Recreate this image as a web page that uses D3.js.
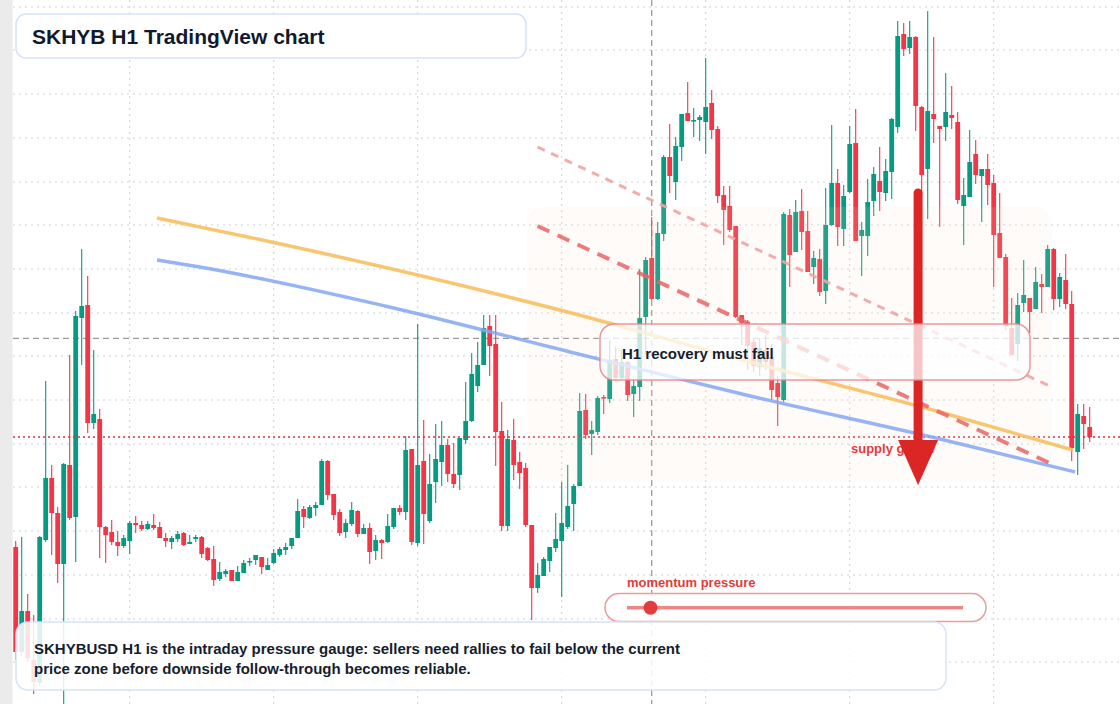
<!DOCTYPE html>
<html>
<head>
<meta charset="utf-8">
<script src="https://cdn.jsdelivr.net/npm/d3@7"></script>
<style>
  html, body { margin: 0; padding: 0; background: #fff; }
  svg { display: block; font-family: "Liberation Sans", Arial, sans-serif; }
</style>
</head>
<body>
<div id="chart"></div>
<script>
// H1 candles, oldest first (price units)
let open = [253,148,189,140,117,260,322,287,236,335,283,482,495,377,381,273,268,258,254,259,
  277,275,271,275,273,262,258,261,267,256,261,263,252,241,221,226,230,219,227,238,
  240,243,230,237,245,250,254,262,291,282,292,295,339,306,288,268,276,289,266,272,
  249,260,258,273,292,288,351,257,339,279,318,338,355,326,325,360,379,414,435,474,
  456,369,274,360,338,332,275,212,224,239,252,259,273,296,314,390,366,368,403,401,
  441,422,438,406,413,483,542,501,566,643,618,653,687,679,680,678,697,671,605,594,
  574,485,478,458,433,450,443,417,400,585,548,589,569,533,541,509,575,617,571,608,
  657,564,564,599,619,607,628,673,766,752,763,693,631,686,674,673,685,678,594,603,
  646,624,631,617,567,543,472,456,497,502,491,516,513,551,501,520,496,348,384,373]
let high = [259,263,206,185,264,419,335,293,337,445,489,551,524,450,391,274,280,269,265,279,
  284,279,279,286,278,267,264,269,268,265,265,264,253,254,238,231,230,234,240,242,
  245,243,242,251,253,257,262,301,294,295,298,341,340,306,291,281,298,290,276,277,
  265,261,286,292,295,364,351,476,380,346,376,379,361,357,362,418,447,458,485,485,
  485,398,370,381,348,337,275,237,243,253,287,318,335,316,407,406,379,404,405,460,
  453,450,439,421,531,543,583,578,645,676,663,686,718,692,685,742,710,674,614,614,
  574,485,480,462,462,465,456,424,588,591,600,611,589,549,551,612,675,631,615,674,
  691,578,621,633,653,641,682,779,777,779,764,694,789,763,674,727,714,688,622,670,
  660,631,646,625,607,546,502,507,540,502,533,526,555,552,527,546,509,396,396,393]
let low = [140,144,138,106,114,258,245,217,96,280,238,435,367,371,242,237,255,244,252,246,
  267,269,270,270,262,253,251,258,254,256,258,242,239,214,219,223,219,219,227,234,
  235,226,230,236,243,245,251,262,272,281,284,295,300,280,264,262,274,263,266,236,
  240,241,257,271,285,280,255,254,256,277,297,314,318,312,310,356,378,408,435,424,
  334,269,269,320,311,273,180,207,224,228,248,203,271,269,314,361,345,365,386,397,
  420,421,399,383,399,445,500,500,559,607,600,639,679,663,659,646,661,597,555,568,
  482,455,430,428,424,430,400,374,398,513,548,550,528,516,504,496,574,554,554,607,
  559,524,544,584,589,599,601,667,744,746,669,605,581,657,573,659,671,596,555,603,
  616,578,595,513,542,470,444,439,488,467,491,487,513,490,493,491,339,325,351,358]
let close = [148,189,142,118,263,322,287,236,336,282,484,494,377,386,273,265,258,254,262,277,
  275,271,276,272,262,259,262,266,255,258,263,246,240,220,228,229,219,228,237,239,
  245,233,235,247,251,253,262,289,283,293,295,339,305,285,267,277,290,266,272,248,
  260,257,274,292,288,350,258,335,286,316,341,355,326,316,362,379,426,435,472,454,
  368,274,361,335,327,275,212,225,241,253,261,277,294,314,389,365,370,402,402,440,
  422,438,405,414,482,540,501,567,643,624,654,686,679,680,683,693,670,604,590,570,
  483,477,454,434,452,438,410,403,586,545,588,568,528,542,508,575,617,573,604,656,
  559,570,598,626,608,629,681,764,751,763,694,625,689,681,671,688,682,600,605,638,
  625,631,615,565,542,474,445,495,505,488,518,513,551,501,523,496,352,386,376,363]

// grid positions (candle index / price)
let gridIdx = [19, 43, 67, 91, 115, 139, 163]
let gridPrice = [793, 750, 706, 662, 618, 575, 531, 487, 444, 400, 356, 313, 269, 225, 181, 138, 94]

// drawn studies: [candle index, price]
let orangeCurve = [[23.55, 582], [41.1, 560], [90.7, 490], [122.4, 438], [154.05, 388], [176.2, 350]]
let blueCurve = [[23.55, 540], [30.7, 533], [61.55, 494], [92.4, 448], [122.4, 404], [154.05, 361], [176.55, 328]]
let upperDash = [[86.97, 653], [172.67, 413]]
let lowerDash = [[86.97, 574], [172.67, 336]]
let zoneIdx = [85.2, 172.7], zonePrice = [318, 593]
let crossIdx = 106, crossPrice = 461.7
let arrowIdx = 150.4, arrowFrom = 607, arrowTo = 315
let momentum = 0.07

let width = 1120, height = 704

let svg = d3.select('#chart')
  .append('svg')
  .attr('width', width)
  .attr('height', height)

let x = d3.scaleLinear().domain([0, 179]).range([15.7, 1089.7])
let y = d3.scaleLinear().domain([0, 800]).range([800, 0])

svg.append('rect').attr('width', width).attr('height', height).attr('fill', '#fff')
svg.append('rect').attr('width', 12.5).attr('height', height).attr('fill', '#ebebeb')

// 网格
let grid = svg.append('g')
  .attr('stroke', '#cdd1d6')
  .attr('stroke-width', 1)
  .attr('stroke-dasharray', '2,4')
grid.selectAll('.gh').data(gridPrice).enter().append('line')
  .attr('x1', 13).attr('x2', width)
  .attr('y1', d => y(d)).attr('y2', d => y(d))
grid.selectAll('.gv').data(gridIdx).enter().append('line')
  .attr('x1', d => x(d)).attr('x2', d => x(d))
  .attr('y1', 0).attr('y2', height)

// crosshair
svg.append('line')
  .attr('x1', 13).attr('x2', width)
  .attr('y1', y(crossPrice)).attr('y2', y(crossPrice))
  .attr('stroke', '#9b9b9b').attr('stroke-width', 1.3).attr('stroke-dasharray', '6,4')
svg.append('line')
  .attr('x1', x(crossIdx)).attr('x2', x(crossIdx))
  .attr('y1', 0).attr('y2', height)
  .attr('stroke', '#9b9b9b').attr('stroke-width', 1.3).attr('stroke-dasharray', '6,4')

// candles
let candles = d3.range(open.length).map(i => ({ i: i, o: open[i], h: high[i], l: low[i], c: close[i] }))
let color = d => d.c >= d.o ? '#089981' : '#f23645'

let cg = svg.append('g')
cg.selectAll('line').data(candles).enter().append('line')
  .attr('x1', d => x(d.i)).attr('x2', d => x(d.i))
  .attr('y1', d => y(d.h)).attr('y2', d => y(d.l))
  .attr('stroke', color).attr('stroke-width', 1.1)
cg.selectAll('rect').data(candles).enter().append('rect')
  .attr('x', d => x(d.i) - 2.4)
  .attr('y', d => y(Math.max(d.o, d.c)))
  .attr('width', 4.8)
  .attr('height', d => Math.max(1.6, Math.abs(y(d.o) - y(d.c))))
  .attr('fill', color)

// last price line
svg.append('line')
  .attr('x1', 13).attr('x2', width)
  .attr('y1', y(close[close.length - 1])).attr('y2', y(close[close.length - 1]))
  .attr('stroke', '#d8333b').attr('stroke-width', 1.3).attr('stroke-dasharray', '2,3')

// zone
svg.append('rect')
  .attr('x', x(zoneIdx[0])).attr('y', y(zonePrice[1]))
  .attr('width', x(zoneIdx[1]) - x(zoneIdx[0]))
  .attr('height', y(zonePrice[0]) - y(zonePrice[1]))
  .attr('rx', 16)
  .attr('fill', 'rgb(245,222,205)').attr('fill-opacity', 0.12)

let line = d3.line().x(d => x(d[0])).y(d => y(d[1])).curve(d3.curveMonotoneX)

svg.append('path').attr('d', line(orangeCurve))
  .attr('fill', 'none').attr('stroke', '#f8bf5e').attr('stroke-opacity', 0.9).attr('stroke-width', 3.5)
svg.append('path').attr('d', line(blueCurve))
  .attr('fill', 'none').attr('stroke', '#84a6f4').attr('stroke-opacity', 0.85).attr('stroke-width', 3.4)
svg.append('path').attr('d', line(upperDash))
  .attr('fill', 'none').attr('stroke', '#f1a3a3').attr('stroke-opacity', 0.9)
  .attr('stroke-width', 3).attr('stroke-dasharray', '8,7')
svg.append('path').attr('d', line(lowerDash))
  .attr('fill', 'none').attr('stroke', '#e76565').attr('stroke-opacity', 0.85)
  .attr('stroke-width', 4).attr('stroke-dasharray', '13,9')

// label + arrow
svg.append('text')
  .attr('x', 851).attr('y', 453)
  .attr('font-size', 13).attr('font-weight', 'bold')
  .attr('fill', '#e23b3b')
  .text('supply gauge')

let ax = x(arrowIdx), headH = 45, headW = 40
svg.append('line')
  .attr('x1', ax).attr('x2', ax)
  .attr('y1', y(arrowFrom)).attr('y2', y(arrowTo) - headH + 2)
  .attr('stroke', '#dc2626').attr('stroke-width', 9).attr('stroke-linecap', 'round')
svg.append('path')
  .attr('d', 'M' + (ax - headW / 2) + ',' + (y(arrowTo) - headH) +
    'L' + (ax + headW / 2) + ',' + (y(arrowTo) - headH) +
    'L' + ax + ',' + y(arrowTo) + 'Z')
  .attr('fill', '#dc2626')

// H1 box
svg.append('rect')
  .attr('x', 600).attr('y', 324).attr('width', 430).attr('height', 56).attr('rx', 14)
  .attr('fill', '#fff').attr('fill-opacity', 0.74)
  .attr('stroke', '#e98686').attr('stroke-opacity', 0.85).attr('stroke-width', 1.5)
svg.append('text')
  .attr('x', 622).attr('y', 359)
  .attr('font-size', 15).attr('font-weight', 'bold').attr('fill', '#151d2e')
  .text('H1 recovery must fail')

// momentum gauge
let m = d3.scaleLinear().domain([0, 1]).range([627, 963])
svg.append('text')
  .attr('x', 627).attr('y', 587)
  .attr('font-size', 13).attr('font-weight', 'bold').attr('fill', '#e23b3b')
  .text('momentum pressure')
svg.append('rect')
  .attr('x', 605).attr('y', 593.5).attr('width', 381).attr('height', 28).attr('rx', 14)
  .attr('fill', '#fff').attr('fill-opacity', 0.88)
  .attr('stroke', '#ee9a9a').attr('stroke-width', 1.5)
svg.append('line')
  .attr('x1', m(0)).attr('x2', m(1)).attr('y1', 607.7).attr('y2', 607.7)
  .attr('stroke', '#ef8585').attr('stroke-width', 3.5)
svg.append('circle')
  .attr('cx', m(momentum)).attr('cy', 607.7).attr('r', 7)
  .attr('fill', '#e23c3f')

// bottom note
svg.append('rect')
  .attr('x', 16).attr('y', 622).attr('width', 930).attr('height', 68).attr('rx', 12)
  .attr('fill', '#fff').attr('fill-opacity', 0.86)
  .attr('stroke', '#d5e3f8').attr('stroke-width', 1.5)
let note = svg.append('text')
  .attr('font-size', 15).attr('font-weight', 'bold').attr('fill', '#151d2e')
note.append('tspan').attr('x', 34).attr('y', 654)
  .text('SKHYBUSD H1 is the intraday pressure gauge: sellers need rallies to fail below the current')
note.append('tspan').attr('x', 34).attr('y', 673.5)
  .text('price zone before downside follow-through becomes reliable.')

// title
svg.append('rect')
  .attr('x', 16).attr('y', 14).attr('width', 510).attr('height', 44).attr('rx', 10)
  .attr('fill', '#fff')
  .attr('stroke', '#d5e3f8').attr('stroke-width', 1.5)
svg.append('text')
  .attr('x', 32).attr('y', 43.5)
  .attr('font-size', 21).attr('font-weight', 'bold').attr('fill', '#111a2d')
  .text('SKHYB H1 TradingView chart')
</script>
</body>
</html>
